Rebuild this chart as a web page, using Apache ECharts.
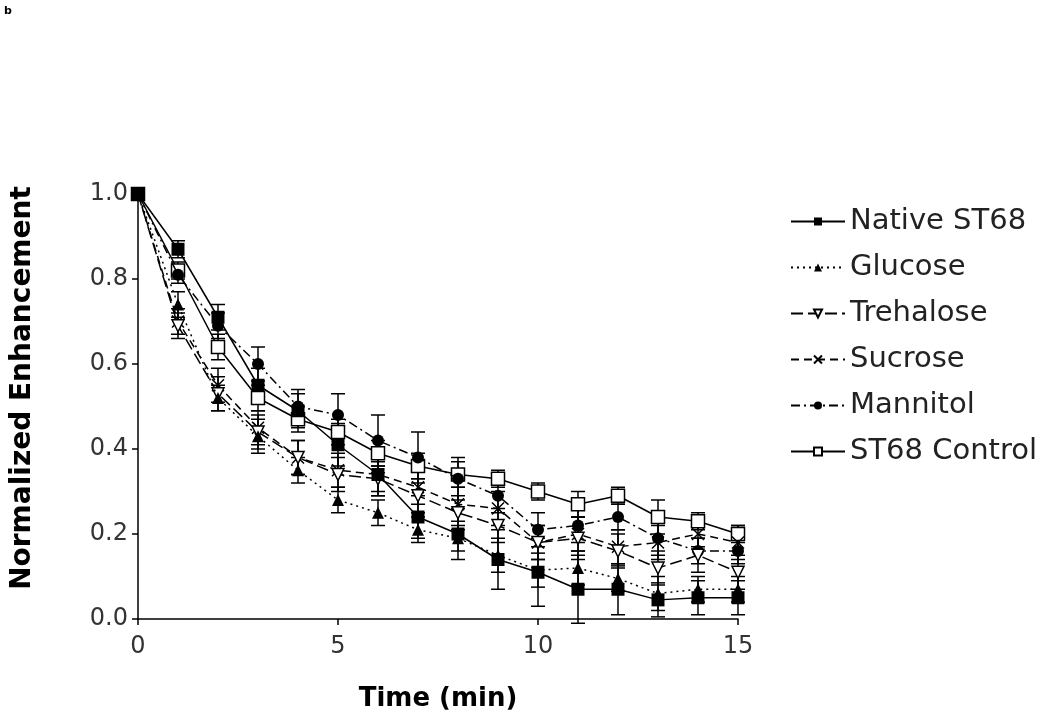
<!DOCTYPE html>
<html>
<head>
<meta charset="utf-8">
<script src="https://cdn.jsdelivr.net/npm/echarts@6/dist/echarts.min.js"></script>
<style>
  html, body { margin: 0; padding: 0; background: #fff; }
  #chart { width: 1050px; height: 726px; }
</style>
</head>
<body>
<div id="chart"></div>
<script>
// time points (min)
const times = [0, 1, 2, 3, 4, 5, 6, 7, 8, 9, 10, 11, 12, 13, 14, 15];

// mean normalized enhancement per group
const nativeST68 = [1.0, 0.87, 0.71, 0.55, 0.49, 0.41, 0.34, 0.24, 0.20, 0.14, 0.11, 0.07, 0.07, 0.045, 0.05, 0.05];
const glucose    = [1.0, 0.74, 0.52, 0.43, 0.35, 0.28, 0.25, 0.21, 0.19, 0.15, 0.115, 0.12, 0.095, 0.06, 0.07, 0.07];
const trehalose  = [1.0, 0.69, 0.53, 0.44, 0.38, 0.34, 0.33, 0.29, 0.25, 0.22, 0.18, 0.19, 0.16, 0.12, 0.15, 0.11];
const sucrose    = [1.0, 0.70, 0.55, 0.45, 0.38, 0.35, 0.34, 0.31, 0.27, 0.26, 0.18, 0.20, 0.17, 0.18, 0.20, 0.18];
const mannitol   = [1.0, 0.81, 0.69, 0.60, 0.50, 0.48, 0.42, 0.38, 0.33, 0.29, 0.21, 0.22, 0.24, 0.19, 0.16, 0.16];
const control    = [1.0, 0.82, 0.64, 0.52, 0.47, 0.44, 0.39, 0.36, 0.34, 0.33, 0.30, 0.27, 0.29, 0.24, 0.23, 0.20];

// error (half length of bar)
const nativeErr    = [0, 0.02, 0.03, 0.04, 0.04, 0.05, 0.05, 0.05, 0.06, 0.07, 0.08, 0.08, 0.06, 0.04, 0.04, 0.04];
const glucoseErr   = [0, 0.03, 0.03, 0.04, 0.03, 0.03, 0.03, 0.03, 0.03, 0.04, 0.04, 0.04, 0.03, 0.04, 0.03, 0.03];
const trehaloseErr = [0, 0.03, 0.04, 0.04, 0.04, 0.04, 0.04, 0.04, 0.04, 0.04, 0.04, 0.05, 0.04, 0.04, 0.04, 0.04];
const sucroseErr   = [0, 0.03, 0.04, 0.04, 0.04, 0.04, 0.04, 0.04, 0.04, 0.04, 0.04, 0.04, 0.04, 0.04, 0.03, 0.04];
const mannitolErr  = [0, 0.02, 0.03, 0.04, 0.04, 0.05, 0.06, 0.06, 0.05, 0.04, 0.04, 0.04, 0.03, 0.04, 0.03, 0.03];
const controlErr   = [0, 0.02, 0.03, 0.03, 0.03, 0.03, 0.03, 0.03, 0.03, 0.02, 0.02, 0.03, 0.02, 0.04, 0.02, 0.02];

const groups = [
  { name: 'Native ST68', data: nativeST68, err: nativeErr, symbol: 'rect', fill: '#000', line: 'solid' },
  { name: 'Glucose', data: glucose, err: glucoseErr, symbol: 'triangle', fill: '#000', line: [2, 4] },
  { name: 'Trehalose', data: trehalose, err: trehaloseErr, symbol: 'triangle', rotate: 180, fill: '#fff', line: [12, 5] },
  { name: 'Sucrose', data: sucrose, err: sucroseErr, symbol: 'path://M0,0L10,10M10,0L0,10', fill: '#000', line: [8, 5] },
  { name: 'Mannitol', data: mannitol, err: mannitolErr, symbol: 'circle', fill: '#000', line: [9, 4, 2, 4] },
  { name: 'ST68 Control', data: control, err: controlErr, symbol: 'rect', fill: '#fff', line: 'solid' }
];

const chart = echarts.init(document.getElementById('chart'));

const series = [];
// error bars first so markers sit on top
groups.forEach(g => {
  series.push({
    type: 'custom',
    silent: true,
    z: 1,
    data: times.map((t, i) => [t, g.data[i] - g.err[i], g.data[i] + g.err[i]]),
    renderItem: function (params, api) {
      if (api.value(2) - api.value(1) <= 0) return null;
      const lo = api.coord([api.value(0), api.value(1)]);
      const hi = api.coord([api.value(0), api.value(2)]);
      const cap = 7;
      const st = { stroke: '#000', lineWidth: 1.5 };
      return {
        type: 'group',
        children: [
          { type: 'line', shape: { x1: lo[0], y1: lo[1], x2: hi[0], y2: hi[1] }, style: st },
          { type: 'line', shape: { x1: lo[0] - cap, y1: lo[1], x2: lo[0] + cap, y2: lo[1] }, style: st },
          { type: 'line', shape: { x1: hi[0] - cap, y1: hi[1], x2: hi[0] + cap, y2: hi[1] }, style: st }
        ]
      };
    }
  });
});
groups.forEach((g, idx) => {
  series.push({
    name: g.name,
    type: 'line',
    z: 10 - idx, // native ST68 drawn on top
    data: times.map((t, i) => [t, g.data[i]]),
    symbol: g.symbol,
    symbolSize: g.symbol === 'rect' ? 13 : 12,
    symbolRotate: g.rotate || 0,
    showAllSymbol: true,
    lineStyle: { color: '#000', width: 1.5, type: g.line },
    itemStyle: { color: g.fill, borderColor: '#000', borderWidth: g.fill === '#fff' || g.symbol.startsWith('path') ? 1.5 : 0 }
  });
});

chart.setOption({
  backgroundColor: '#fff',
  animation: false,
  textStyle: { fontFamily: 'DejaVu Sans, sans-serif' },
  graphic: [
    { type: 'text', left: 4, top: 6, style: { text: 'b', font: 'bold 11px DejaVu Sans', fill: '#000' } },
    // y axis title, sits a little above the axis centre like the original
    {
      type: 'text', x: 23, y: 388, rotation: Math.PI / 2,
      style: { text: 'Normalized Enhancement', font: 'bold 28px DejaVu Sans', fill: '#000', align: 'center', verticalAlign: 'middle' }
    }
  ],
  grid: { left: 138, right: 312, top: 194, bottom: 107 },
  legend: {
    data: groups.map(g => g.name),
    orient: 'vertical',
    left: 785,
    top: 202,
    itemWidth: 54,
    itemHeight: 10,
    itemGap: 17,
    textStyle: { fontSize: 29, color: '#222', fontFamily: 'DejaVu Sans' }
  },
  xAxis: {
    type: 'value',
    min: 0,
    max: 15,
    interval: 5,
    name: 'Time (min)',
    nameLocation: 'middle',
    nameGap: 67,
    nameTextStyle: { fontSize: 26, fontWeight: 'bold', color: '#000' },
    axisLine: { lineStyle: { color: '#000', width: 1.5 } },
    axisTick: { length: 6, lineStyle: { color: '#000', width: 1.5 } },
    axisLabel: { fontSize: 24, color: '#333', margin: 16 },
    splitLine: { show: false }
  },
  yAxis: {
    type: 'value',
    min: 0,
    max: 1,
    interval: 0.2,
    axisLine: { show: true, lineStyle: { color: '#000', width: 1.5 } },
    axisTick: { show: true, length: 6, lineStyle: { color: '#000', width: 1.5 } },
    axisLabel: { fontSize: 24, color: '#333', margin: 10, formatter: v => v.toFixed(1) },
    splitLine: { show: false }
  },
  series: series
});
</script>
</body>
</html>
